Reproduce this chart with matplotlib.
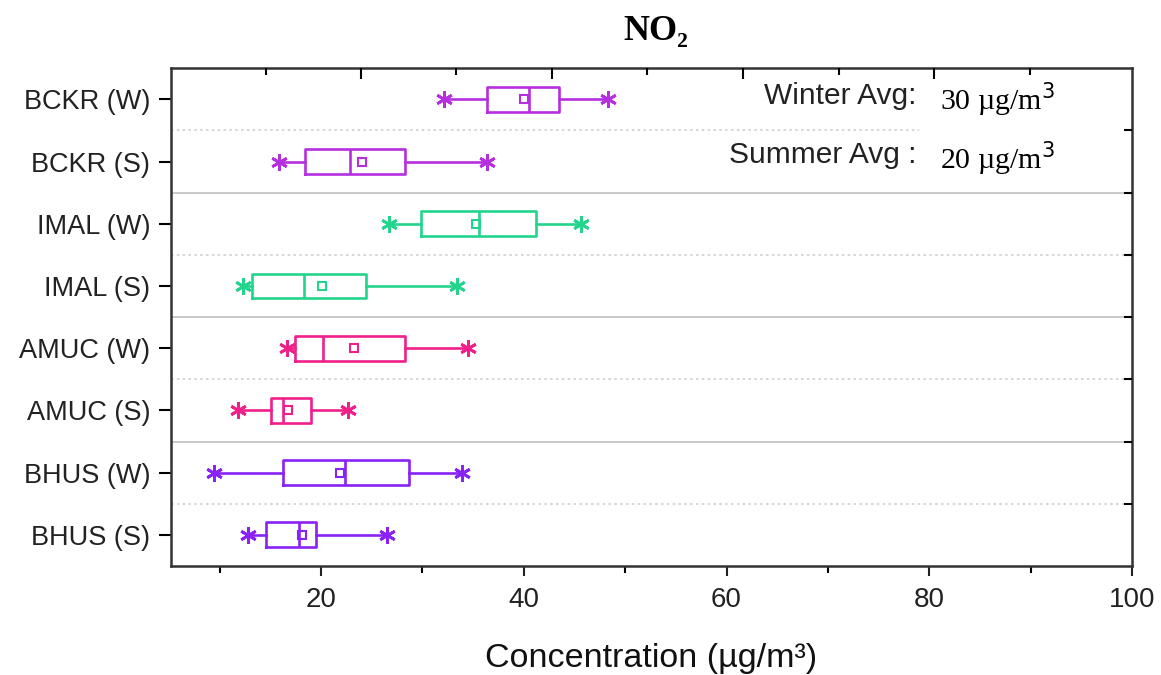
import matplotlib
matplotlib.use("Agg")
import matplotlib.pyplot as plt
from matplotlib.patches import Rectangle

# Site / season labels, top to bottom
labels = ["BCKR (W)", "BCKR (S)", "IMAL (W)", "IMAL (S)",
          "AMUC (W)", "AMUC (S)", "BHUS (W)", "BHUS (S)"]
# Box statistics (µg/m³)
whislo = [32.1, 15.9, 26.7, 12.3, 16.6, 11.8, 9.4, 12.8]
q1     = [36.4, 18.4, 29.9, 13.2, 17.4, 15.1, 16.2, 14.6]
med    = [40.5, 22.9, 35.6, 18.3, 20.2, 16.2, 22.4, 17.8]
mean   = [40.0, 24.0, 35.3, 20.1, 23.3, 16.7, 21.9, 18.1]
q3     = [43.5, 28.3, 41.2, 24.4, 28.3, 19.0, 28.7, 19.5]
whishi = [48.3, 36.4, 45.6, 33.4, 34.5, 22.7, 33.9, 26.5]
colors = ["#b52ee0", "#b52ee0", "#22d48c", "#22d48c",
          "#f0208a", "#f0208a", "#8a22f5", "#8a22f5"]

winter_avg = 30
summer_avg = 20

fig = plt.figure(figsize=(11.61, 6.75), dpi=100)
ax = fig.add_axes([0.1473, 0.1615, 0.8277, 0.7375])

n = len(labels)
ypos = list(range(n - 1, -1, -1))

for i in range(n):
    st = [dict(whislo=whislo[i], q1=q1[i], med=med[i], q3=q3[i],
               whishi=whishi[i], mean=mean[i], fliers=[])]
    c = colors[i]
    ax.bxp(st, positions=[ypos[i]], orientation="horizontal", widths=0.4,
           showmeans=True, showcaps=False, patch_artist=False,
           boxprops=dict(color=c, linewidth=1.9),
           medianprops=dict(color=c, linewidth=1.9),
           whiskerprops=dict(color=c, linewidth=1.9),
           meanprops=dict(marker="s", markersize=6, markerfacecolor="none",
                          markeredgecolor=c, markeredgewidth=1.5))
    ax.plot([whislo[i], whishi[i]], [ypos[i], ypos[i]], linestyle="none",
            marker=(6, 2, 0), markersize=12, markeredgewidth=2.0, color=c)

# Separators between seasons (dotted) and sites (solid)
for k in range(1, n):
    yb = n - k - 0.5
    if k % 2 == 1:
        ax.axhline(yb, color="#cfcfcf", linestyle=(0, (1.5, 2)), linewidth=1.2, zorder=0)
    else:
        ax.axhline(yb, color="#c8c8c8", linestyle="-", linewidth=1.4, zorder=0)

ax.set_xlim(5.2, 99.5)
ax.set_ylim(-0.5, n - 0.5)
ax.set_yticks(ypos)
ax.set_yticklabels(labels, family="Liberation Sans", fontsize=19.5, color="#222222")
ax.set_xticks([20, 40, 60, 80, 100])
ax.set_xticks([10, 30, 50, 70, 90], minor=True)
ax.set_xticklabels(["20", "40", "60", "80", "100"], family="Liberation Sans",
                   fontsize=20, color="#222222")
ax.tick_params(axis="x", which="major", direction="out", length=7, width=1.5, pad=8, colors="#222222")
ax.tick_params(axis="x", which="minor", direction="out", length=5, width=1.5)
ax.tick_params(axis="y", direction="out", length=9, width=1.5, pad=6)

for s in ax.spines.values():
    s.set_linewidth(1.8)
    s.set_color("#333333")

# Inward ticks on the top and right spines
top = ax.twiny()
top.set_xlim(ax.get_xlim())
top.set_xticks([23.9, 42.8, 61.6, 80.5])
top.set_xticks([14.6, 33.3, 52.2, 71.1, 89.9], minor=True)
top.set_xticklabels([])
top.tick_params(axis="x", which="major", direction="in", length=8, width=1.5)
top.tick_params(axis="x", which="minor", direction="in", length=5, width=1.5)
right = ax.twinx()
right.set_ylim(ax.get_ylim())
right.set_yticks([n - k - 0.5 for k in range(1, n)])
right.set_yticklabels([])
right.tick_params(axis="y", direction="in", length=6, width=1.5)
for a in (top, right):
    for s in a.spines.values():
        s.set_visible(False)

ax.set_xlabel("Concentration (µg/m³)", family="Liberation Sans", fontsize=24.5,
              labelpad=22, color="#111111")
fig.text(0.565, 0.953, "NO₂", family="Liberation Serif", fontweight="bold",
         fontsize=26, ha="center", va="center")

# Seasonal averages
ax.add_patch(Rectangle((0.778, 0.76), 0.215, 0.228, transform=ax.transAxes,
                       facecolor="white", edgecolor="none", zorder=3))
ax.text(0.776, 0.945, "Winter Avg:", transform=ax.transAxes, ha="right", va="center",
        family="Liberation Sans", fontsize=21.5, color="#222222", zorder=4)
ax.text(0.800, 0.937, f"{winter_avg} µg/m$^3$", transform=ax.transAxes, ha="left", va="center",
        family="Liberation Serif", fontsize=21.5, zorder=4)
ax.text(0.776, 0.826, "Summer Avg :", transform=ax.transAxes, ha="right", va="center",
        family="Liberation Sans", fontsize=21.5, color="#222222", zorder=4)
ax.text(0.800, 0.819, f"{summer_avg} µg/m$^3$", transform=ax.transAxes, ha="left", va="center",
        family="Liberation Serif", fontsize=21.5, zorder=4)

fig.savefig("out.png", dpi=100, facecolor="white")
